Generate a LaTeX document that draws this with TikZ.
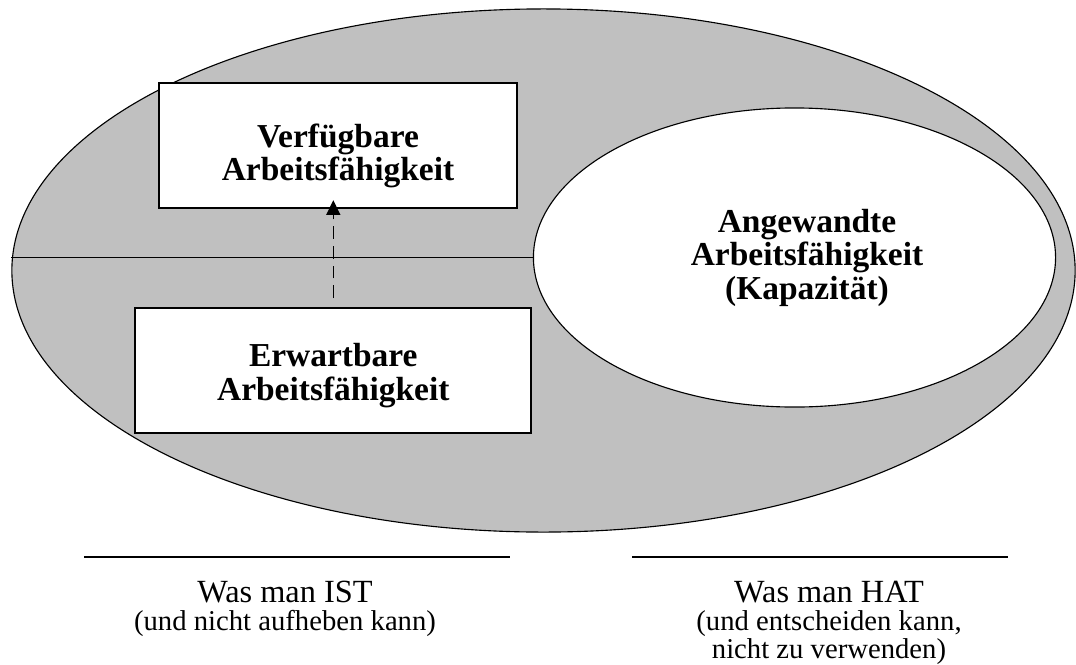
\documentclass[tikz,border=0pt]{standalone}
\usepackage{fontspec}
\setmainfont{Liberation Serif}
\usepackage{xcolor}
\usepackage{tikz}
\usetikzlibrary{arrows.meta, positioning, shapes.geometric}

\definecolor{flaeche}{RGB}{192,192,192}

\begin{document}
\begin{tikzpicture}[
    x=0.025cm, y=-0.025cm,
    rahmen/.style={draw, line width=0.8pt},
    aussen/.style={rahmen, ellipse, fill=flaeche, inner sep=0pt},
    innen/.style={rahmen, ellipse, fill=white, inner sep=0pt},
    kasten/.style={draw, line width=1.4pt, fill=white, rectangle,
                   inner sep=0pt, minimum height=3.125cm},
    titel/.style={font=\fontsize{23.8}{23.8}\selectfont\bfseries,
                  align=center, inner sep=0pt},
    unten/.style={font=\fontsize{20.4}{19.9}\selectfont, align=center,
                  inner sep=0pt, anchor=north},
    pfeil/.style={-{Triangle[length=10.5pt, width=10pt]}, line width=1pt,
                  dash pattern=on 9pt off 5pt},
    strich/.style={line width=1.4pt}
  ]
  \useasboundingbox (0,0) rectangle (1076,664);

  % --- Flaechen ---
  \node[aussen, minimum width=26.575cm, minimum height=13.075cm] (gesamt) at (543.5,270.5) {};
  \node[innen, minimum width=13.05cm, minimum height=7.475cm] (angew) at (794.5,257.5) {};
  \draw[rahmen] (angew.west) -- (angew.west -| gesamt.west);

  % --- Kaesten ---
  \node[kasten, minimum width=8.925cm] (verf) at (338,145.5) {};
  \node[kasten, minimum width=9.9cm] (erw) at (333.3,370.5) {};

  \node[titel] (verftxt) at ([shift={(0,10.5)}]verf.center) {Verfügbare\\Arbeitsfähigkeit};
  \node[titel] (erwtxt) at ([shift={(0,5)}]erw.center) {Erwartbare\\Arbeitsfähigkeit};
  \node[titel] (angewtxt) at ([shift={(12.5,0)}]angew.center) {Angewandte\\Arbeitsfähigkeit\\(Kapazität)};

  \draw[pfeil, shorten <=0.225cm] (erw.north) -- ([yshift=0.22cm]erw.north |- verf.south);

  % --- Beschriftung unten ---
  \draw[strich] (84,557) -- (510,557);
  \draw[strich] (632,557) -- (1008,557);
  \node[unten] (ist) at (285,580.6) {{\fontsize{23}{19.9}\selectfont Was man IST}\\(und nicht aufheben kann)};
  \node[unten] (hat) at (829,580.6) {{\fontsize{23}{19.9}\selectfont Was man HAT}\\(und entscheiden kann,\\nicht zu verwenden)};
\end{tikzpicture}
\end{document}
